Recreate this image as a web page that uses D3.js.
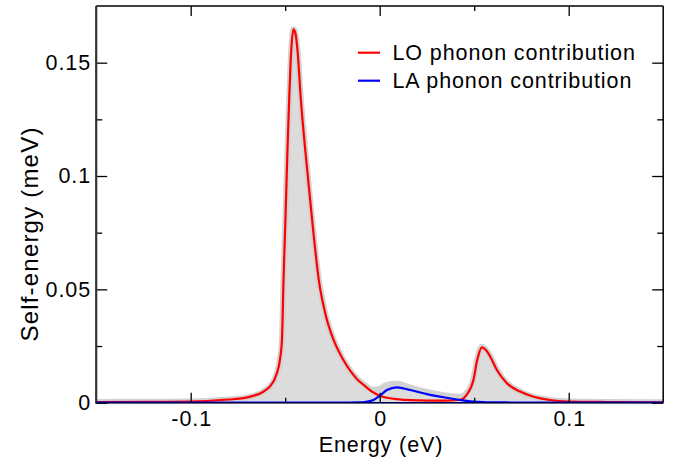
<!DOCTYPE html>
<html>
<head>
<meta charset="utf-8">
<script src="https://cdn.jsdelivr.net/npm/d3@7"></script>
<style>
  html, body { margin: 0; padding: 0; background: #fff; }
  svg { display: block; }
  text { font-family: "Liberation Sans", Arial, Helvetica, sans-serif; fill: #000; }
</style>
</head>
<body>
<svg id="chart" width="677" height="464"></svg>
<script>
// Energy grid (eV)
const energy = [-0.15, -0.12, -0.1, -0.08, -0.072, -0.067, -0.063, -0.06, -0.058, -0.0544,
  -0.053, -0.0517, -0.0509, -0.0498, -0.0488, -0.0479, -0.0468, -0.0456, -0.0445, -0.0435, -0.0417,
  -0.0394, -0.0359, -0.0322, -0.0288, -0.0244, -0.0192, -0.0121, -0.008, -0.0033, 0,
  0.0038, 0.0091, 0.0161, 0.025, 0.0338, 0.0426, 0.046, 0.0496, 0.0516, 0.0541,
  0.0562, 0.0585, 0.062, 0.0673, 0.0743, 0.0814, 0.0899, 0.1, 0.12, 0.15];
// LO phonon contribution (meV)
const loValues = [0.0003, 0.0004, 0.0005, 0.0014, 0.0020, 0.0030, 0.0042, 0.0058, 0.0072, 0.013,
  0.0178, 0.028, 0.054, 0.0828, 0.1115, 0.1335, 0.1555, 0.1647, 0.1625, 0.1555, 0.1335,
  0.1115, 0.0818, 0.054, 0.0394, 0.0277, 0.0188, 0.0105, 0.0075, 0.0045, 0.0031,
  0.0022, 0.0016, 0.0011, 0.0009, 0.0009, 0.0013, 0.0035, 0.0100, 0.0188, 0.0244,
  0.0232, 0.0203, 0.0144, 0.0086, 0.0049, 0.0026, 0.0012, 0.0005, 0.0003, 0.0002];
// LA phonon contribution (meV)
const laValues = [0, 0, 0, 0, 0, 0, 0, 0, 0, 0,
  0, 0, 0, 0, 0, 0, 0, 0, 0, 0, 0,
  0, 0, 0, 0, 0, 0, 0.0001, 0.0003, 0.0012, 0.003,
  0.0056, 0.0068, 0.0056, 0.0038, 0.0024, 0.0012, 0.0008, 0.0005, 0.0004, 0.0003,
  0.0002, 0.0002, 0.0001, 0.0001, 0, 0, 0, 0, 0, 0];

const seriesNames = ["LO phonon contribution", "LA phonon contribution"];
const xMajorTicks = [-0.1, 0, 0.1];
const xMinorTicks = [-0.05, 0.05];
const yMajorTicks = [0, 0.05, 0.1, 0.15];
const yMinorTicks = [0.025, 0.075, 0.125];
const xTickLabels = ["-0.1", "0", "0.1"];
const yTickLabels = ["0", "0.05", "0.1", "0.15"];

const svg = d3.select("#chart");
const L = 96.2, R = 663.2, T = 6, B = 402.7;
const x = d3.scaleLinear().domain([-0.15, 0.15]).range([L, R]);
const y = d3.scaleLinear().domain([0, 0.175]).range([B, T]);

const data = energy.map((e, i) => ({ e, lo: loValues[i], la: laValues[i], tot: loValues[i] + laValues[i] }));

svg.append("defs").append("clipPath").attr("id", "clip")
  .append("rect").attr("x", L).attr("y", T).attr("width", R - L).attr("height", B - T);

const g = svg.append("g").attr("clip-path", "url(#clip)");
const curve = d3.curveMonotoneX;

g.append("path").datum(data)
  .attr("d", d3.area().x(d => x(d.e)).y0(y(0)).y1(d => y(d.tot)).curve(curve))
  .attr("fill", "#dcdcdc");
g.append("path").datum(data)
  .attr("d", d3.line().x(d => x(d.e)).y(d => y(d.tot)).curve(curve))
  .attr("fill", "none").attr("stroke", "#d2d2d2").attr("stroke-width", 6).attr("stroke-linejoin", "round");
g.append("path").datum(data)
  .attr("d", d3.line().x(d => x(d.e)).y(d => y(d.lo)).curve(curve))
  .attr("fill", "none").attr("stroke", "#ff0000").attr("stroke-width", 2.2);
g.append("path").datum(data)
  .attr("d", d3.line().x(d => x(d.e)).y(d => y(d.la)).curve(curve))
  .attr("fill", "none").attr("stroke", "#0000ff").attr("stroke-width", 2.2);

const FONT = '"Liberation Sans", Arial, sans-serif';
const FS = "21.5px", LS = "0.9px";
// Axes (inward ticks, mirrored)
function styleAxis(sel) {
  sel.select(".domain").remove();
  sel.selectAll("line").attr("stroke", "#000").attr("stroke-width", 1.3);
  sel.selectAll("text").style("font-family", FONT).style("font-size", FS)
    .style("letter-spacing", LS).attr("fill", "#000");
}
svg.append("g").attr("transform", `translate(0,${B})`)
  .call(d3.axisBottom(x).tickValues(xMajorTicks).tickSize(-10).tickPadding(8).tickFormat((d, i) => xTickLabels[i]))
  .call(styleAxis)
  .selectAll("text").attr("dx", "0.5px");
svg.append("g").attr("transform", `translate(0,${B})`)
  .call(d3.axisBottom(x).tickValues(xMinorTicks).tickSize(-5).tickFormat(""))
  .call(styleAxis);
svg.append("g").attr("transform", `translate(0,${T})`)
  .call(d3.axisTop(x).tickValues(xMajorTicks).tickSize(-10).tickFormat(""))
  .call(styleAxis);
svg.append("g").attr("transform", `translate(0,${T})`)
  .call(d3.axisTop(x).tickValues(xMinorTicks).tickSize(-5).tickFormat(""))
  .call(styleAxis);
svg.append("g").attr("transform", `translate(${L},0)`)
  .call(d3.axisLeft(y).tickValues(yMajorTicks).tickSize(-11).tickPadding(5.2).tickFormat((d, i) => yTickLabels[i]))
  .call(styleAxis);
svg.append("g").attr("transform", `translate(${L},0)`)
  .call(d3.axisLeft(y).tickValues(yMinorTicks).tickSize(-6).tickFormat(""))
  .call(styleAxis);
svg.append("g").attr("transform", `translate(${R},0)`)
  .call(d3.axisRight(y).tickValues(yMajorTicks).tickSize(-11).tickFormat(""))
  .call(styleAxis);
svg.append("g").attr("transform", `translate(${R},0)`)
  .call(d3.axisRight(y).tickValues(yMinorTicks).tickSize(-6).tickFormat(""))
  .call(styleAxis);

// Frame
svg.append("line").attr("x1", L).attr("x2", R).attr("y1", T).attr("y2", T).attr("stroke", "#000").attr("stroke-width", 1.5);
svg.append("line").attr("x1", R).attr("x2", R).attr("y1", T).attr("y2", B).attr("stroke", "#000").attr("stroke-width", 1.5);
svg.append("line").attr("x1", L).attr("x2", L).attr("y1", T).attr("y2", B + 1).attr("stroke", "#333").attr("stroke-width", 2.2);
svg.append("line").attr("x1", L).attr("x2", R).attr("y1", B).attr("y2", B).attr("stroke", "#000").attr("stroke-width", 1.5);
// LA line overlaps baseline
svg.append("line").attr("x1", L).attr("x2", R).attr("y1", B).attr("y2", B).attr("stroke", "#00008b").attr("stroke-width", 1.2).attr("opacity", 0.7);

// Axis titles
svg.append("text").attr("x", 381).attr("y", 451.5).attr("text-anchor", "middle")
  .style("font-size", FS).style("letter-spacing", LS).text("Energy (eV)");
svg.append("text").attr("transform", "translate(38,234) rotate(-90)").attr("text-anchor", "middle")
  .style("font-size", "24px").style("letter-spacing", "1.2px").text("Self-energy (meV)");

// Legend
const legendColors = ["#ff0000", "#0000ff"];
const leg = svg.append("g");
seriesNames.forEach((name, i) => {
  const yy = 52.7 + i * 28;
  leg.append("line").attr("x1", 358).attr("x2", 380).attr("y1", yy).attr("y2", yy)
    .attr("stroke", legendColors[i]).attr("stroke-width", 2.2);
  leg.append("text").attr("x", 392.5).attr("y", yy + 7).style("font-size", FS)
    .style("letter-spacing", LS).text(name);
});
</script>
</body>
</html>
